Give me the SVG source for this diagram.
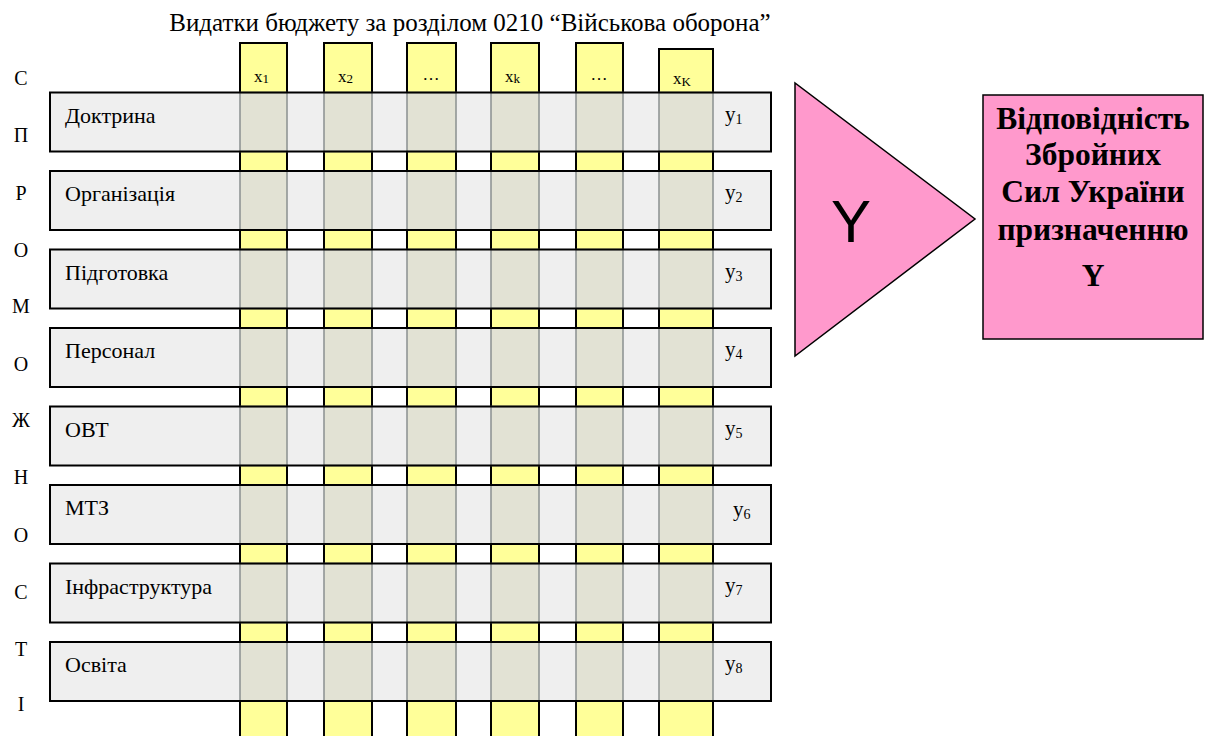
<svg xmlns="http://www.w3.org/2000/svg" width="1205" height="736" viewBox="0 0 1205 736">
<style>
.bg{fill:#ffffff}
.col{fill:#ffff99;stroke:#000;stroke-width:2}
.rowf{fill:#efefef}
.rowo{fill:none;stroke:#000;stroke-width:2}
.cell{fill:#e2e2d4;stroke:#8a9090;stroke-width:1.5}
.serif{font-family:"Liberation Serif","Times New Roman",serif;fill:#000}
.title{font-size:25px}
.lbl{font-size:22px}
.ylbl{font-size:21px}
.side{font-size:20px}
.hdr{font-size:17px}
.sub{font-size:13px}
.ysub{font-size:14px}
.tri{fill:#ff99cc;stroke:#000;stroke-width:1.5}
.box{fill:#ff99cc;stroke:#000;stroke-width:1.5}
.big{font-family:"Liberation Sans",Arial,sans-serif;font-size:60px}
.bold{font-family:"Liberation Serif","Times New Roman",serif;font-weight:bold;font-size:31.5px;text-anchor:middle}
</style>
<rect class="bg" x="0" y="0" width="1205" height="736"/>
<g id="title"><text class="serif title" x="470" y="31" text-anchor="middle">Видатки бюджету за розділом 0210 “Військова оборона”</text></g>
<g id="side-label" class="serif side" text-anchor="middle">
<text x="21" y="85">С</text>
<text x="21" y="142">П</text>
<text x="21" y="200">Р</text>
<text x="21" y="257">О</text>
<text x="21" y="313">М</text>
<text x="21" y="371">О</text>
<text x="21" y="427">Ж</text>
<text x="21" y="484">Н</text>
<text x="21" y="542">О</text>
<text x="21" y="599">С</text>
<text x="21" y="656">Т</text>
<text x="21" y="711">І</text>
</g>
<g id="columns">
<rect id="col-x1" class="col" x="240" y="43" width="47" height="710"/>
<rect id="col-x2" class="col" x="324" y="43" width="48" height="710"/>
<rect id="col-x3" class="col" x="407" y="43" width="49" height="710"/>
<rect id="col-xk" class="col" x="491" y="43" width="48" height="710"/>
<rect id="col-x5" class="col" x="576" y="43" width="47" height="710"/>
<rect id="col-xK" class="col" x="659" y="49" width="54" height="704"/>
</g>
<g id="column-headers" class="serif hdr">
<text x="254" y="82">x<tspan class="sub" dy="1">1</tspan></text>
<text x="338" y="82">x<tspan class="sub" dy="1">2</tspan></text>
<text x="431" y="80" text-anchor="middle">…</text>
<text x="505" y="82">x<tspan class="sub" dy="1">k</tspan></text>
<text x="599" y="80" text-anchor="middle">…</text>
<text x="673" y="84">x<tspan class="sub" dy="2">K</tspan></text>
</g>
<defs>
<g id="rowbase">
<rect class="rowf" x="50" y="0" width="721" height="59"/>
<rect class="cell" x="240" y="0" width="47" height="59"/>
<rect class="cell" x="324" y="0" width="48" height="59"/>
<rect class="cell" x="407" y="0" width="49" height="59"/>
<rect class="cell" x="491" y="0" width="48" height="59"/>
<rect class="cell" x="576" y="0" width="47" height="59"/>
<rect class="cell" x="659" y="0" width="54" height="59"/>
<rect class="rowo" x="50" y="0" width="721" height="59"/>
</g>
</defs>
<g id="row-1" transform="translate(0,92.5)"><use href="#rowbase"/><text class="serif lbl" x="65" y="30">Доктрина</text><text class="serif ylbl" x="725" y="28">y<tspan class="ysub" dy="3">1</tspan></text></g>
<g id="row-2" transform="translate(0,171)"><use href="#rowbase"/><text class="serif lbl" x="65" y="30">Організація</text><text class="serif ylbl" x="725" y="28">y<tspan class="ysub" dy="3">2</tspan></text></g>
<g id="row-3" transform="translate(0,249.5)"><use href="#rowbase"/><text class="serif lbl" x="65" y="30">Підготовка</text><text class="serif ylbl" x="725" y="28">y<tspan class="ysub" dy="3">3</tspan></text></g>
<g id="row-4" transform="translate(0,328)"><use href="#rowbase"/><text class="serif lbl" x="65" y="30">Персонал</text><text class="serif ylbl" x="725" y="28">y<tspan class="ysub" dy="3">4</tspan></text></g>
<g id="row-5" transform="translate(0,406.5)"><use href="#rowbase"/><text class="serif lbl" x="65" y="30">ОВТ</text><text class="serif ylbl" x="725" y="28">y<tspan class="ysub" dy="3">5</tspan></text></g>
<g id="row-6" transform="translate(0,485)"><use href="#rowbase"/><text class="serif lbl" x="65" y="30">МТЗ</text><text class="serif ylbl" x="733" y="31">y<tspan class="ysub" dy="3">6</tspan></text></g>
<g id="row-7" transform="translate(0,563.5)"><use href="#rowbase"/><text class="serif lbl" x="65" y="30">Інфраструктура</text><text class="serif ylbl" x="725" y="28">y<tspan class="ysub" dy="3">7</tspan></text></g>
<g id="row-8" transform="translate(0,642)"><use href="#rowbase"/><text class="serif lbl" x="65" y="30">Освіта</text><text class="serif ylbl" x="725" y="28">y<tspan class="ysub" dy="3">8</tspan></text></g>
<g id="connectors"/>
<g id="triangle-Y">
<polygon class="tri" points="795,83 795,356 975,219"/>
<text class="big" x="851" y="242" text-anchor="middle">Y</text>
</g>
<g id="result-box">
<rect class="box" x="983" y="95" width="220" height="244"/>
<text class="bold" x="1093" y="129">Відповідність</text>
<text class="bold" x="1093" y="165">Збройних</text>
<text class="bold" x="1093" y="202">Сил України</text>
<text class="bold" x="1093" y="240">призначенню</text>
<text class="bold" x="1093" y="286">Y</text>
</g>
</svg>
